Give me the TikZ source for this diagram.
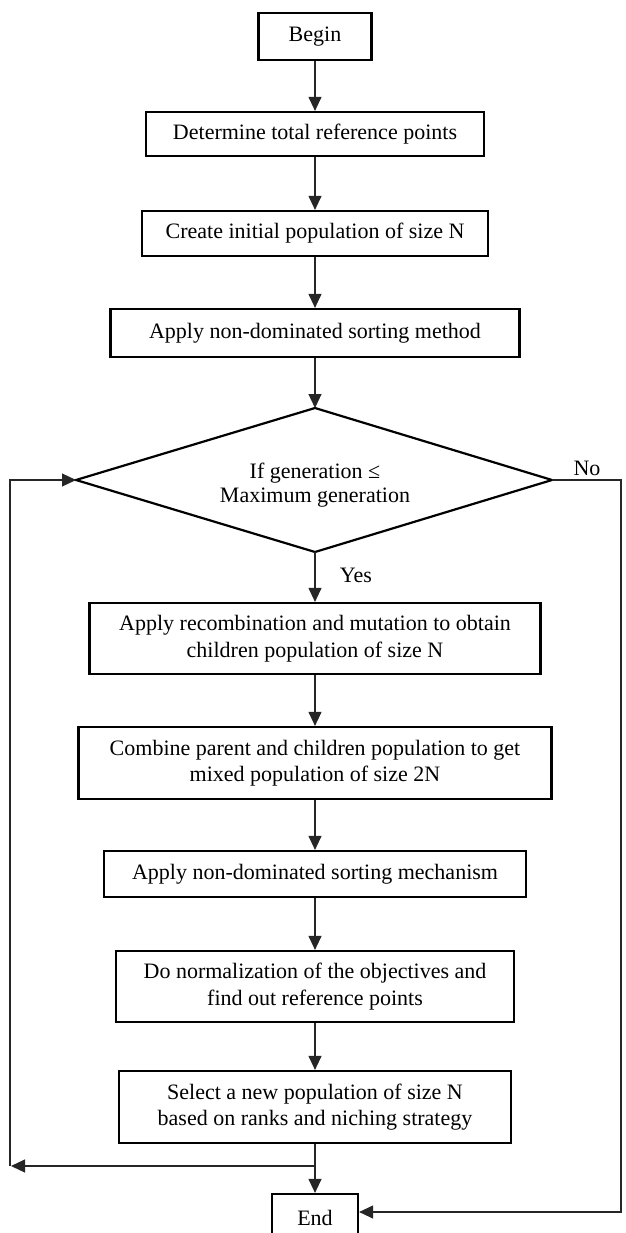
\documentclass[tikz,border=0pt]{standalone}
\usepackage{fontspec}
\setmainfont{Liberation Serif}
\usetikzlibrary{arrows.meta}
\begin{document}
\begin{tikzpicture}[x=1pt,y=-1pt,
  box/.style={draw=black, line width=2.2pt, inner sep=0pt, align=center, font=\fontsize{22}{26.5}\selectfont},
  lbl/.style={inner sep=0pt, font=\fontsize{22}{26.5}\selectfont},
  conn/.style={line width=1.1pt, draw=black!85},
  arr/.style={conn, -{Triangle[length=14pt,width=13pt]}},
  diashape/.style={draw=black, line width=2.2pt, line join=miter}
]
\useasboundingbox (0,0) rectangle (625,1233);
\clip (0,0) rectangle (625,1233);

\node[box, minimum width=113pt, minimum height=47pt] (begin) at (315,36.5) {Begin};
\node[box, minimum width=338pt, minimum height=44pt] (determine) at (315,134) {Determine total reference points};
\node[box, minimum width=346pt, minimum height=45pt] (create) at (315,233.5) {Create initial population of size N};
\node[box, minimum width=409pt, minimum height=48pt] (method) at (315,333) {Apply non-dominated sorting method};

\coordinate (dT) at (315,408);
\coordinate (dB) at (315,552);
\coordinate (dL) at (76,480);
\coordinate (dR) at (552,480);
\draw[diashape] (dT) -- (dR) -- (dB) -- (dL) -- cycle;
\node[lbl, align=center, font=\fontsize{22}{23.5}\selectfont] (cond) at (315,485) {If generation ≤\\Maximum generation};

\node[box, minimum width=451pt, minimum height=71pt] (recomb) at (315,638.5) {Apply recombination and mutation to obtain\\children population of size N};
\node[box, minimum width=473pt, minimum height=72pt] (combine) at (315,763) {Combine parent and children population to get\\mixed population of size 2N};
\node[box, minimum width=422pt, minimum height=46pt] (mech) at (315,874) {Apply non-dominated sorting mechanism};
\node[box, minimum width=398pt, minimum height=71pt] (norm) at (315,986.5) {Do normalization of the objectives and\\find out reference points};
\node[box, minimum width=392pt, minimum height=72pt] (select) at (315,1107) {Select a new population of size N\\based on ranks and niching strategy};
\node[box, minimum width=86pt, minimum height=48pt] (end) at (315,1218) {End};

\node[lbl] (yes) at (356,575) {Yes};
\node[lbl] (no) at (587,468) {No};

\draw[arr] (begin.south) -- (determine.north);
\draw[arr] (determine.south) -- (create.north);
\draw[arr] (create.south) -- (method.north);
\draw[arr] (method.south) -- (dT);
\draw[arr] (dB) -- (recomb.north);
\draw[arr] (recomb.south) -- (combine.north);
\draw[arr] (combine.south) -- (mech.north);
\draw[arr] (mech.south) -- (norm.north);
\draw[arr] (norm.south) -- (select.north);
\draw[arr] (select.south) -- (end.north);

\coordinate (j) at (315,1166);
\coordinate (lb) at (11,1166);
\coordinate (lbv) at (10,1166);
\coordinate (lt) at (10,480);
\draw[arr] (j) -- (lb);
\draw[arr] (lbv) -- (lt) -- (dL);

\coordinate (rt) at (621,480);
\coordinate (rb) at (621,1212);
\draw[arr] (dR) -- (rt) -- (rb) -- (end.east |- rb);
\end{tikzpicture}
\end{document}
